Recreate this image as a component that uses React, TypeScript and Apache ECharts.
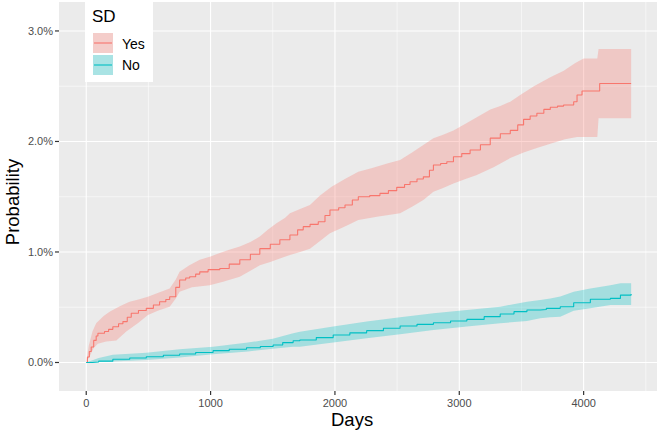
import React, { useEffect, useRef } from "react";
import * as echarts from "echarts";

// ---- data (days, probability in %) ----
const yesEstimate: number[][] = [
  [0, 0], [10, 0.05], [25, 0.1], [40, 0.14], [60, 0.2], [80, 0.24], [94, 0.264], [147, 0.28], [180, 0.3],
  [214, 0.324], [260, 0.35], [295, 0.37], [330, 0.41], [362, 0.445], [420, 0.47], [483, 0.49], [540, 0.52],
  [590, 0.55], [640, 0.57], [671, 0.595], [720, 0.68], [751, 0.747], [800, 0.765], [832, 0.776], [880, 0.8],
  [913, 0.82], [980, 0.84], [1074, 0.85], [1150, 0.89], [1235, 0.93], [1320, 0.98], [1396, 1.03], [1480, 1.07],
  [1557, 1.11], [1638, 1.154], [1700, 1.2], [1745, 1.229], [1800, 1.25], [1866, 1.274], [1920, 1.33],
  [1960, 1.38], [2030, 1.4], [2081, 1.425], [2140, 1.47], [2188, 1.5], [2280, 1.51], [2362, 1.53],
  [2430, 1.555], [2497, 1.585], [2560, 1.61], [2604, 1.636], [2660, 1.66], [2711, 1.68], [2760, 1.74],
  [2792, 1.787], [2850, 1.8], [2900, 1.817], [2953, 1.862], [3020, 1.89], [3087, 1.923], [3170, 1.97],
  [3249, 2.03], [3330, 2.07], [3410, 2.1], [3470, 2.15], [3517, 2.2], [3570, 2.23], [3624, 2.255],
  [3680, 2.29], [3732, 2.31], [3790, 2.32], [3839, 2.33], [3920, 2.36], [3947, 2.42], [3987, 2.457],
  [4129, 2.525], [4382, 2.525],
];
const yesUpper: number[][] = [
  [0, 0], [20, 0.15], [50, 0.28], [80, 0.355], [140, 0.42], [188, 0.46], [214, 0.475], [270, 0.51],
  [322, 0.536], [349, 0.55], [420, 0.57], [496, 0.595], [580, 0.63], [671, 0.67], [720, 0.75], [751, 0.82],
  [830, 0.88], [913, 0.93], [1000, 0.96], [1074, 0.99], [1150, 1.02], [1235, 1.05], [1320, 1.09],
  [1396, 1.14], [1460, 1.2], [1530, 1.26], [1600, 1.31], [1638, 1.35], [1720, 1.39], [1799, 1.425],
  [1880, 1.51], [1973, 1.59], [2080, 1.66], [2188, 1.727], [2300, 1.76], [2420, 1.8], [2524, 1.833],
  [2620, 1.9], [2711, 1.968], [2792, 2.03], [2870, 2.06], [2953, 2.1], [3050, 2.16], [3141, 2.22],
  [3250, 2.29], [3330, 2.32], [3410, 2.36], [3490, 2.42], [3600, 2.5], [3732, 2.58], [3840, 2.64],
  [3933, 2.71], [4000, 2.75], [4110, 2.75], [4120, 2.837], [4382, 2.837],
];
const yesLower: number[][] = [
  [0, 0], [30, 0.06], [60, 0.13], [93, 0.17], [160, 0.19], [242, 0.2], [322, 0.28], [420, 0.36],
  [496, 0.43], [580, 0.47], [671, 0.505], [720, 0.58], [751, 0.64], [850, 0.68], [993, 0.7], [1100, 0.73],
  [1235, 0.776], [1320, 0.83], [1396, 0.88], [1480, 0.91], [1557, 0.94], [1638, 0.973], [1720, 1.0],
  [1799, 1.03], [1880, 1.1], [1960, 1.17], [2080, 1.23], [2188, 1.29], [2350, 1.32], [2524, 1.35],
  [2620, 1.41], [2711, 1.47], [2792, 1.546], [2870, 1.58], [2953, 1.62], [3050, 1.66], [3141, 1.697],
  [3280, 1.77], [3410, 1.85], [3517, 1.9], [3624, 1.94], [3732, 1.98], [3850, 2.02], [3947, 2.04],
  [4110, 2.04], [4120, 2.21], [4382, 2.21],
];
const noEstimate: number[][] = [
  [0, 0], [50, 0.005], [100, 0.012], [214, 0.029], [350, 0.04], [483, 0.052], [620, 0.065], [751, 0.077],
  [880, 0.09], [1020, 0.107], [1150, 0.12], [1289, 0.134], [1400, 0.145], [1503, 0.158], [1580, 0.18],
  [1664, 0.197], [1718, 0.204], [1850, 0.225], [1986, 0.249], [2120, 0.268], [2255, 0.288], [2390, 0.31],
  [2524, 0.33], [2660, 0.345], [2792, 0.36], [2930, 0.375], [3061, 0.39], [3200, 0.415], [3329, 0.439],
  [3440, 0.46], [3544, 0.475], [3651, 0.48], [3700, 0.49], [3812, 0.505], [3920, 0.54], [4054, 0.572],
  [4215, 0.58], [4296, 0.61], [4382, 0.62],
];
const noUpper: number[][] = [
  [0, 0], [100, 0.04], [214, 0.07], [483, 0.089], [751, 0.12], [1020, 0.143], [1300, 0.18], [1500, 0.215],
  [1664, 0.264], [1718, 0.279], [1986, 0.325], [2255, 0.37], [2524, 0.41], [2792, 0.445], [3061, 0.475],
  [3329, 0.505], [3544, 0.55], [3651, 0.566], [3732, 0.58], [3812, 0.596], [3920, 0.64], [4054, 0.67],
  [4215, 0.7], [4296, 0.717], [4382, 0.717],
];
const noLower: number[][] = [
  [0, 0], [214, 0.01], [483, 0.023], [751, 0.045], [1020, 0.074], [1300, 0.1], [1500, 0.125],
  [1664, 0.143], [1718, 0.143], [1986, 0.18], [2255, 0.219], [2524, 0.255], [2792, 0.294], [3061, 0.325],
  [3329, 0.355], [3544, 0.375], [3651, 0.4], [3732, 0.41], [3812, 0.414], [3920, 0.469], [4054, 0.49],
  [4215, 0.52], [4382, 0.52],
];

const xTicks = [0, 1000, 2000, 3000, 4000];
const xMinor = [500, 1500, 2500, 3500, 4500];
const yTicks = [0, 1, 2, 3];
const yMinor = [0.5, 1.5, 2.5];
const legendLabels = ["Yes", "No"];

const X_MIN = -219;
const X_MAX = 4590;
const Y_MIN = -0.258;
const Y_MAX = 3.262;

const RED = "#F8766D";
const BLUE = "#00BFC4";
const RED_FILL = "rgba(248,118,109,0.3)";
const BLUE_FILL = "rgba(0,191,196,0.3)";
const FONT = "'Liberation Sans', Arial, sans-serif";

function ribbon(upper: number[][], lower: number[][], fill: string) {
  return (_params: any, api: any) => {
    const pts: number[][] = [];
    for (let i = 0; i < upper.length; i++) pts.push(api.coord(upper[i]));
    for (let i = lower.length - 1; i >= 0; i--) pts.push(api.coord(lower[i]));
    return { type: "polygon", shape: { points: pts }, style: { fill } };
  };
}

function gridRender(_params: any, api: any) {
  const children: any[] = [];
  const seg = (x1: number, y1: number, x2: number, y2: number, stroke: string, w: number) =>
    children.push({ type: "line", shape: { x1, y1, x2, y2 }, style: { stroke, lineWidth: w } });
  const vline = (x: number, w: number) => {
    const a = api.coord([x, Y_MIN]);
    const b = api.coord([x, Y_MAX]);
    seg(a[0], a[1], b[0], b[1], "#FFFFFF", w);
  };
  const hline = (y: number, w: number) => {
    const a = api.coord([X_MIN, y]);
    const b = api.coord([X_MAX, y]);
    seg(a[0], a[1], b[0], b[1], "#FFFFFF", w);
  };
  xMinor.forEach((v) => vline(v, 0.55));
  yMinor.forEach((v) => hline(v, 0.55));
  xTicks.forEach((v) => vline(v, 1.1));
  yTicks.forEach((v) => hline(v, 1.1));
  // axis tick marks (grey20), outside the panel
  xTicks.forEach((v) => {
    const a = api.coord([v, Y_MIN]);
    seg(a[0], a[1], a[0], a[1] + 4, "#333333", 1.2);
  });
  yTicks.forEach((v) => {
    const a = api.coord([X_MIN, v]);
    seg(a[0] - 4, a[1], a[0], a[1], "#333333", 1.2);
  });
  return { type: "group", children };
}

export default function App() {
  const ref = useRef<HTMLDivElement>(null);
  useEffect(() => {
    if (!ref.current) return;
    const chart = echarts.init(ref.current, null, { renderer: "svg" });
    chart.setOption({
      animation: false,
      backgroundColor: "#FFFFFF",
      grid: {
        left: 59, top: 2, width: 598, height: 389,
        show: true, backgroundColor: "#EBEBEB", borderWidth: 0,
      },
      xAxis: {
        type: "value", min: X_MIN, max: X_MAX,
        axisLine: { show: false, onZero: false },
        splitLine: { show: false },
        axisTick: { show: false, customValues: xTicks },
        axisLabel: {
          customValues: xTicks, color: "#4D4D4D", fontSize: 11, fontFamily: FONT, margin: 6,
          formatter: (v: number) => String(v),
        },
      },
      yAxis: {
        type: "value", min: Y_MIN, max: Y_MAX,
        axisLine: { show: false, onZero: false },
        splitLine: { show: false },
        axisTick: { show: false, customValues: yTicks },
        axisLabel: {
          customValues: yTicks, color: "#4D4D4D", fontSize: 11, fontFamily: FONT, margin: 6,
          formatter: (v: number) => v.toFixed(1) + "%",
        },
      },
      series: [
        { type: "custom", data: [[0, 0]], renderItem: gridRender, z: 1, silent: true, clip: false },
        { type: "custom", data: [[0, 0]], renderItem: ribbon(yesUpper, yesLower, RED_FILL), z: 2, silent: true },
        { type: "custom", data: [[0, 0]], renderItem: ribbon(noUpper, noLower, BLUE_FILL), z: 2, silent: true },
        { type: "line", name: "Yes", data: yesEstimate, step: "end", showSymbol: false, lineStyle: { color: RED, width: 1.1 }, z: 3, silent: true },
        { type: "line", name: "No", data: noEstimate, step: "end", showSymbol: false, lineStyle: { color: BLUE, width: 1.1 }, z: 3, silent: true },
      ],
      graphic: [
        { type: "text", left: 352 - 21, top: 410, style: { text: "Days", fontSize: 18.5, fontFamily: FONT, fill: "#000000" } },
        {
          type: "text", x: 12, y: 202, rotation: Math.PI / 2,
          style: { text: "Probability", fontSize: 18.5, fontFamily: FONT, fill: "#000000", align: "center", verticalAlign: "middle" },
        },
        { type: "rect", shape: { x: 85, y: 0, width: 68, height: 82 }, style: { fill: "#FFFFFF" }, z: 10 },
        { type: "text", x: 92, y: 16, style: { text: "SD", fontSize: 17, fontFamily: FONT, fill: "#000000", verticalAlign: "middle" }, z: 11 },
        { type: "rect", shape: { x: 93, y: 33, width: 20, height: 20 }, style: { fill: "#F2F2F2" }, z: 11 },
        { type: "rect", shape: { x: 93, y: 33, width: 20, height: 20 }, style: { fill: RED_FILL }, z: 12 },
        { type: "line", shape: { x1: 94, y1: 43, x2: 112, y2: 43 }, style: { stroke: RED, lineWidth: 1.1 }, z: 13 },
        { type: "rect", shape: { x: 93, y: 55, width: 20, height: 20 }, style: { fill: "#F2F2F2" }, z: 11 },
        { type: "rect", shape: { x: 93, y: 55, width: 20, height: 20 }, style: { fill: BLUE_FILL }, z: 12 },
        { type: "line", shape: { x1: 94, y1: 65, x2: 112, y2: 65 }, style: { stroke: BLUE, lineWidth: 1.1 }, z: 13 },
        { type: "text", x: 122, y: 44, style: { text: legendLabels[0], fontSize: 14, fontFamily: FONT, fill: "#000000", verticalAlign: "middle" }, z: 11 },
        { type: "text", x: 122, y: 65, style: { text: legendLabels[1], fontSize: 14, fontFamily: FONT, fill: "#000000", verticalAlign: "middle" }, z: 11 },
      ],
    });
    return () => chart.dispose();
  }, []);
  return <div ref={ref} style={{ position: "absolute", left: 0, top: 0, width: 660, height: 438 }} />;
}
